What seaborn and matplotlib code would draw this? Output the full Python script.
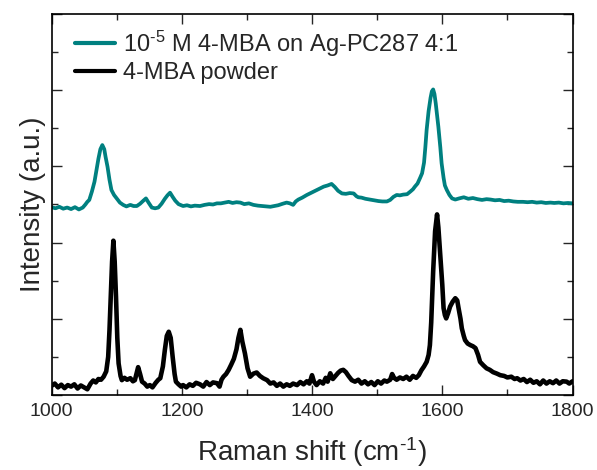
import matplotlib
matplotlib.use("Agg")
import matplotlib.pyplot as plt
import seaborn as sns
import pandas as pd
from matplotlib.ticker import MultipleLocator

# ---- data ----
powder_x = [1000, 1005, 1010, 1015, 1020, 1025, 1030, 1035, 1040, 1045, 1050, 1055, 1060, 1064, 1068,
            1072, 1076, 1080, 1084, 1087, 1089, 1091, 1093, 1095, 1097, 1099, 1101, 1103, 1106, 1108,
            1112, 1116, 1121, 1125, 1128, 1131, 1133, 1136, 1139, 1143, 1147, 1151, 1155, 1160, 1164,
            1167, 1171, 1174, 1177, 1180, 1183, 1186, 1189, 1191, 1195, 1199, 1202, 1207, 1212, 1217,
            1222, 1228, 1233, 1238, 1243, 1248, 1254, 1258, 1261, 1264, 1268, 1272, 1276, 1280, 1284,
            1287, 1290, 1293, 1297, 1301, 1305, 1310, 1315, 1320, 1325, 1331, 1336, 1341, 1346, 1351,
            1356, 1361, 1366, 1371, 1377, 1382, 1387, 1392, 1396, 1400, 1403, 1407, 1412, 1417, 1421,
            1424, 1428, 1432, 1436, 1440, 1444, 1448, 1452, 1456, 1461, 1466, 1471, 1476, 1481, 1486,
            1491, 1496, 1501, 1506, 1511, 1515, 1520, 1523, 1526, 1530, 1535, 1540, 1545, 1550, 1555,
            1560, 1564, 1568, 1572, 1576, 1579, 1581, 1583, 1586, 1589, 1592, 1594, 1597, 1600, 1602,
            1604, 1606, 1609, 1612, 1616, 1620, 1623, 1625, 1628, 1630, 1633, 1635, 1639, 1643, 1647,
            1651, 1655, 1658, 1663, 1668, 1673, 1678, 1684, 1689, 1695, 1700, 1706, 1711, 1715, 1720,
            1725, 1730, 1735, 1740, 1745, 1750, 1755, 1760, 1765, 1770, 1775, 1780, 1785, 1791, 1795,
            1800]
powder_y = [0.24, 0.30, 0.20, 0.27, 0.18, 0.26, 0.22, 0.28, 0.17, 0.25, 0.20, 0.15, 0.30, 0.38, 0.33,
            0.42, 0.40, 0.48, 0.62, 1.00, 1.70, 2.58, 3.50, 4.05, 3.50, 2.58, 1.50, 0.83, 0.50, 0.39,
            0.45, 0.40, 0.44, 0.36, 0.39, 0.60, 0.73, 0.55, 0.35, 0.30, 0.22, 0.26, 0.20, 0.32, 0.40,
            0.44, 0.75, 1.18, 1.55, 1.66, 1.50, 1.00, 0.55, 0.35, 0.28, 0.22, 0.26, 0.20, 0.28, 0.24,
            0.32, 0.28, 0.22, 0.34, 0.26, 0.33, 0.31, 0.22, 0.40, 0.48, 0.55, 0.66, 0.80, 0.95, 1.20,
            1.50, 1.71, 1.40, 1.09, 0.70, 0.48, 0.56, 0.59, 0.50, 0.44, 0.39, 0.30, 0.33, 0.24, 0.30,
            0.22, 0.28, 0.24, 0.30, 0.26, 0.34, 0.28, 0.36, 0.30, 0.52, 0.35, 0.26, 0.36, 0.30, 0.45,
            0.35, 0.57, 0.42, 0.50, 0.58, 0.64, 0.66, 0.60, 0.50, 0.39, 0.35, 0.40, 0.30, 0.36, 0.28,
            0.34, 0.26, 0.36, 0.30, 0.38, 0.35, 0.40, 0.55, 0.45, 0.40, 0.46, 0.42, 0.48, 0.40, 0.50,
            0.45, 0.52, 0.65, 0.75, 0.87, 1.05, 1.31, 1.90, 3.24, 4.30, 4.74, 4.40, 3.67, 2.90, 2.28,
            2.10, 2.01, 2.15, 2.32, 2.45, 2.54, 2.48, 2.28, 2.00, 1.75, 1.55, 1.44, 1.35, 1.31, 1.28,
            1.23, 1.05, 0.87, 0.78, 0.70, 0.66, 0.60, 0.56, 0.52, 0.50, 0.46, 0.48, 0.42, 0.44, 0.38,
            0.42, 0.34, 0.40, 0.32, 0.36, 0.28, 0.38, 0.30, 0.36, 0.31, 0.38, 0.30, 0.36, 0.35, 0.30,
            0.36]

sers_x = [1000, 1006, 1012, 1018, 1024, 1030, 1036, 1042, 1048, 1052, 1055, 1058, 1062, 1066, 1069,
          1072, 1075, 1078, 1081, 1083, 1086, 1089, 1092, 1096, 1100, 1105, 1110, 1115, 1121, 1126,
          1131, 1136, 1141, 1145, 1149, 1154, 1159, 1164, 1169, 1174, 1178, 1182, 1186, 1190, 1195,
          1202, 1208, 1214, 1220, 1228, 1235, 1242, 1248, 1254, 1260, 1266, 1272, 1278, 1284, 1290,
          1296, 1303, 1310, 1317, 1323, 1330, 1336, 1342, 1348, 1355, 1361, 1366, 1371, 1375, 1379,
          1385, 1392, 1398, 1405, 1412, 1418, 1424, 1430, 1435, 1440, 1446, 1452, 1458, 1464, 1468,
          1471, 1476, 1482, 1489, 1495, 1502, 1508, 1515, 1520, 1525, 1530, 1535, 1540, 1546, 1551,
          1555, 1558, 1562, 1566, 1569, 1572, 1574, 1576, 1579, 1582, 1584, 1586, 1588, 1590, 1592,
          1594, 1597, 1599, 1602, 1604, 1607, 1611, 1615, 1620, 1626, 1633, 1640, 1647, 1654, 1661,
          1668, 1674, 1681, 1688, 1695, 1702, 1709, 1716, 1724, 1731, 1738, 1745, 1752, 1759, 1766,
          1772, 1779, 1786, 1793, 1800]
sers_y = [4.93, 4.90, 4.94, 4.89, 4.92, 4.88, 4.93, 4.87, 4.92, 5.00, 5.07, 5.12, 5.34, 5.60, 5.90,
          6.20, 6.45, 6.56, 6.45, 6.25, 5.99, 5.65, 5.38, 5.25, 5.16, 5.05, 4.99, 4.95, 4.99, 4.96,
          4.96, 5.02, 5.10, 5.16, 5.05, 4.92, 4.90, 4.92, 5.02, 5.15, 5.24, 5.31, 5.20, 5.10, 5.01,
          4.96, 4.98, 4.95, 4.97, 4.96, 4.99, 5.01, 5.00, 5.03, 5.03, 5.05, 5.07, 5.04, 5.06, 5.05,
          5.01, 5.03, 4.99, 4.97, 4.96, 4.95, 4.94, 4.96, 4.98, 5.02, 5.05, 5.03, 4.99, 5.08, 5.13,
          5.18, 5.25, 5.30, 5.36, 5.42, 5.47, 5.50, 5.54, 5.46, 5.36, 5.29, 5.28, 5.30, 5.29, 5.22,
          5.19, 5.18, 5.15, 5.13, 5.11, 5.09, 5.08, 5.08, 5.12, 5.20, 5.25, 5.24, 5.26, 5.27, 5.34,
          5.40, 5.47, 5.55, 5.70, 5.82, 6.10, 6.50, 6.96, 7.45, 7.80, 7.97, 8.02, 7.90, 7.65, 7.35,
          7.04, 6.50, 6.08, 5.70, 5.50, 5.38, 5.25, 5.16, 5.13, 5.16, 5.19, 5.15, 5.17, 5.14, 5.12,
          5.14, 5.13, 5.11, 5.12, 5.09, 5.10, 5.08, 5.07, 5.07, 5.06, 5.07, 5.05, 5.06, 5.04, 5.05,
          5.04, 5.05, 5.03, 5.04, 5.03]

label_sers = "10$^{\\mathregular{\u2010}5}$ M 4-MBA on Ag-PC287 4:1"
label_powder = "4-MBA powder"
x_ticks = [1000, 1200, 1400, 1600, 1800]

sns.set_style("ticks")
plt.rcParams['font.family'] = ['Liberation Sans', 'DejaVu Sans']
plt.rcParams['mathtext.fontset'] = 'custom'
plt.rcParams['mathtext.rm'] = 'Liberation Sans'
plt.rcParams['mathtext.it'] = 'Liberation Sans'
plt.rcParams['mathtext.default'] = 'regular'

df_sers = pd.DataFrame({"shift": sers_x, "intensity": sers_y})
df_powder = pd.DataFrame({"shift": powder_x, "intensity": powder_y})

fig = plt.figure(figsize=(5.97, 4.70), dpi=100)
ax = fig.add_axes([0.0863, 0.1596, 0.8727, 0.8106])

sns.lineplot(data=df_sers, x="shift", y="intensity", ax=ax, color="#008080",
             linewidth=2.7, label=label_sers, sort=False)
sns.lineplot(data=df_powder, x="shift", y="intensity", ax=ax, color="black",
             linewidth=3.3, label=label_powder, sort=False)

ax.set_xlim(1000, 1800)
ax.set_ylim(0, 10)
ax.set_xticks(x_ticks)
ax.set_xticklabels([str(t) for t in x_ticks])
ax.xaxis.set_minor_locator(MultipleLocator(100))
ax.yaxis.set_major_locator(MultipleLocator(2))
ax.yaxis.set_minor_locator(MultipleLocator(1))
ax.tick_params(axis="both", which="major", direction="in", length=7, width=1,
               top=True, right=True, labelsize=14, pad=6)
ax.tick_params(axis="both", which="minor", direction="in", length=4, width=1,
               top=True, right=True)
ax.tick_params(axis="y", which="both", labelleft=False)
for s in ax.spines.values():
    s.set_linewidth(1.2)
    s.set_color("black")

ax.set_xlabel("Raman shift (cm$^{\\mathregular{\u2010}1}$)", fontsize=20, labelpad=11)
ax.set_ylabel("Intensity (a.u.)", fontsize=20, labelpad=4)

leg = ax.legend(loc="upper left", frameon=False, fontsize=17, handlelength=1.7,
                handletextpad=0.35, labelspacing=0.15, borderaxespad=0.0,
                bbox_to_anchor=(0.027, 0.987))
for line in leg.get_lines():
    line.set_linewidth(3.0)

fig.savefig("out.png", dpi=100)
